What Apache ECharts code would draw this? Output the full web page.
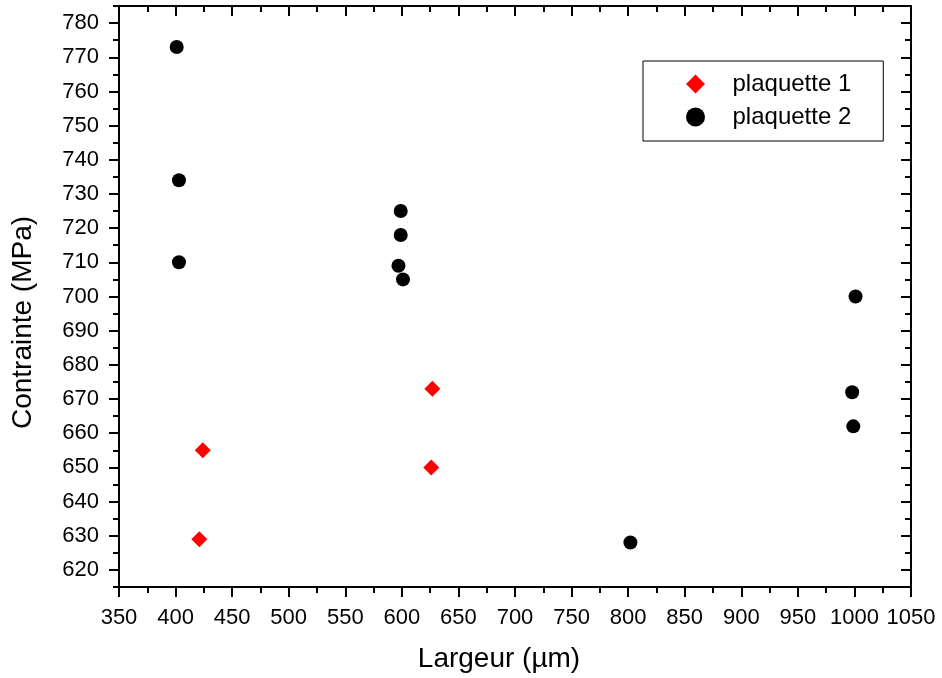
<!DOCTYPE html>
<html>
<head>
<meta charset="utf-8">
<script src="https://cdn.jsdelivr.net/npm/echarts@6/dist/echarts.min.js"></script>
<style>
html,body{margin:0;padding:0;background:#fff;}
#chart{width:942px;height:678px;}
</style>
</head>
<body>
<div id="chart"></div>
<script>
// Data
var series1Name = 'plaquette 1';
var series1X = [421, 424, 626, 627];
var series1Y = [629, 655, 650, 673];

var series2Name = 'plaquette 2';
var series2X = [401, 403, 403, 599, 599, 597, 601, 1001, 998, 999, 802];
var series2Y = [773, 734, 710, 725, 718, 709, 705, 700, 672, 662, 628];

var xTickValues = [350, 400, 450, 500, 550, 600, 650, 700, 750, 800, 850, 900, 950, 1000, 1050];
var yTickValues = [620, 630, 640, 650, 660, 670, 680, 690, 700, 710, 720, 730, 740, 750, 760, 770, 780];
var yMinorTickValues = [615, 625, 635, 645, 655, 665, 675, 685, 695, 705, 715, 725, 735, 745, 755, 765, 775, 785];

var FONT = 'Liberation Sans, Arial, sans-serif';
var xMin = 350, xMax = 1050, yMin = 615, yMax = 785;

function zip(a, b) { return a.map(function (v, i) { return [v, b[i]]; }); }
function plain(v) { return String(v); }

var lineStyle = { color: '#000', width: 2 };

function yAxisDef(pos, ticks, len, inside, labels, extra) {
  var d = {
    type: 'value', position: pos, min: yMin, max: yMax,
    axisLine: { show: true, onZero: false, lineStyle: lineStyle },
    axisTick: { show: true, inside: inside, length: len, customValues: ticks, lineStyle: lineStyle },
    axisLabel: labels ? { show: true, customValues: ticks, formatter: plain, fontSize: 22, color: '#000', fontFamily: FONT, margin: 20 } : { show: false },
    splitLine: { show: false }
  };
  if (extra) for (var k in extra) d[k] = extra[k];
  return d;
}

var chart = echarts.init(document.getElementById('chart'));
chart.setOption({
  animation: false,
  backgroundColor: '#fff',
  grid: { left: 119, right: 31, top: 6, bottom: 90, containLabel: false },
  legend: {
    orient: 'vertical', left: 643, top: 61,
    padding: [11, 32, 12, 43],
    itemGap: 9, itemWidth: 20, itemHeight: 19,
    borderColor: '#000', borderWidth: 1, borderRadius: 0,
    textStyle: { fontSize: 24, lineHeight: 24, color: '#000', fontFamily: FONT, padding: [0, 0, 0, 22] },
    data: [
      { name: series1Name, icon: 'path://M0,-10L10,0L0,10L-10,0Z' },
      { name: series2Name }
    ]
  },
  xAxis: [
    {
      type: 'value', position: 'bottom', min: xMin, max: xMax, interval: 50,
      name: 'Largeur (µm)', nameLocation: 'middle', nameGap: 58,
      nameTextStyle: { fontSize: 28, color: '#000', fontFamily: FONT, padding: [0, 32, 0, 0] },
      axisLine: { show: true, onZero: false, lineStyle: lineStyle },
      axisTick: { show: true, inside: false, length: 10, lineStyle: lineStyle },
      minorTick: { show: true, splitNumber: 2, length: 6, lineStyle: lineStyle },
      axisLabel: { fontSize: 22, color: '#000', fontFamily: FONT, margin: 20, formatter: plain },
      splitLine: { show: false }, minorSplitLine: { show: false }
    },
    {
      type: 'value', position: 'top', min: xMin, max: xMax, interval: 50,
      axisLine: { show: true, onZero: false, lineStyle: lineStyle },
      axisTick: { show: true, inside: true, length: 10, lineStyle: lineStyle },
      minorTick: { show: true, splitNumber: 2, length: 6, lineStyle: lineStyle },
      axisLabel: { show: false },
      splitLine: { show: false }, minorSplitLine: { show: false }
    }
  ],
  yAxis: [
    yAxisDef('left', yTickValues, 10, false, true, {
      name: 'Contrainte (MPa)', nameLocation: 'middle', nameGap: 82,
      nameTextStyle: { fontSize: 28, color: '#000', fontFamily: FONT, padding: [0, 52, 0, 0] }
    }),
    yAxisDef('left', yMinorTickValues, 6, false, false),
    yAxisDef('right', yTickValues, 10, true, false),
    yAxisDef('right', yMinorTickValues, 6, true, false)
  ],
  series: [
    {
      name: series1Name, type: 'scatter', xAxisIndex: 0, yAxisIndex: 0,
      symbol: 'diamond', symbolSize: 16,
      itemStyle: { color: '#ff0000', opacity: 1 },
      data: zip(series1X, series1Y)
    },
    {
      name: series2Name, type: 'scatter', xAxisIndex: 0, yAxisIndex: 0,
      symbol: 'circle', symbolSize: 14,
      itemStyle: { color: '#000000', opacity: 1 },
      data: zip(series2X, series2Y)
    }
  ]
});
</script>
</body>
</html>
